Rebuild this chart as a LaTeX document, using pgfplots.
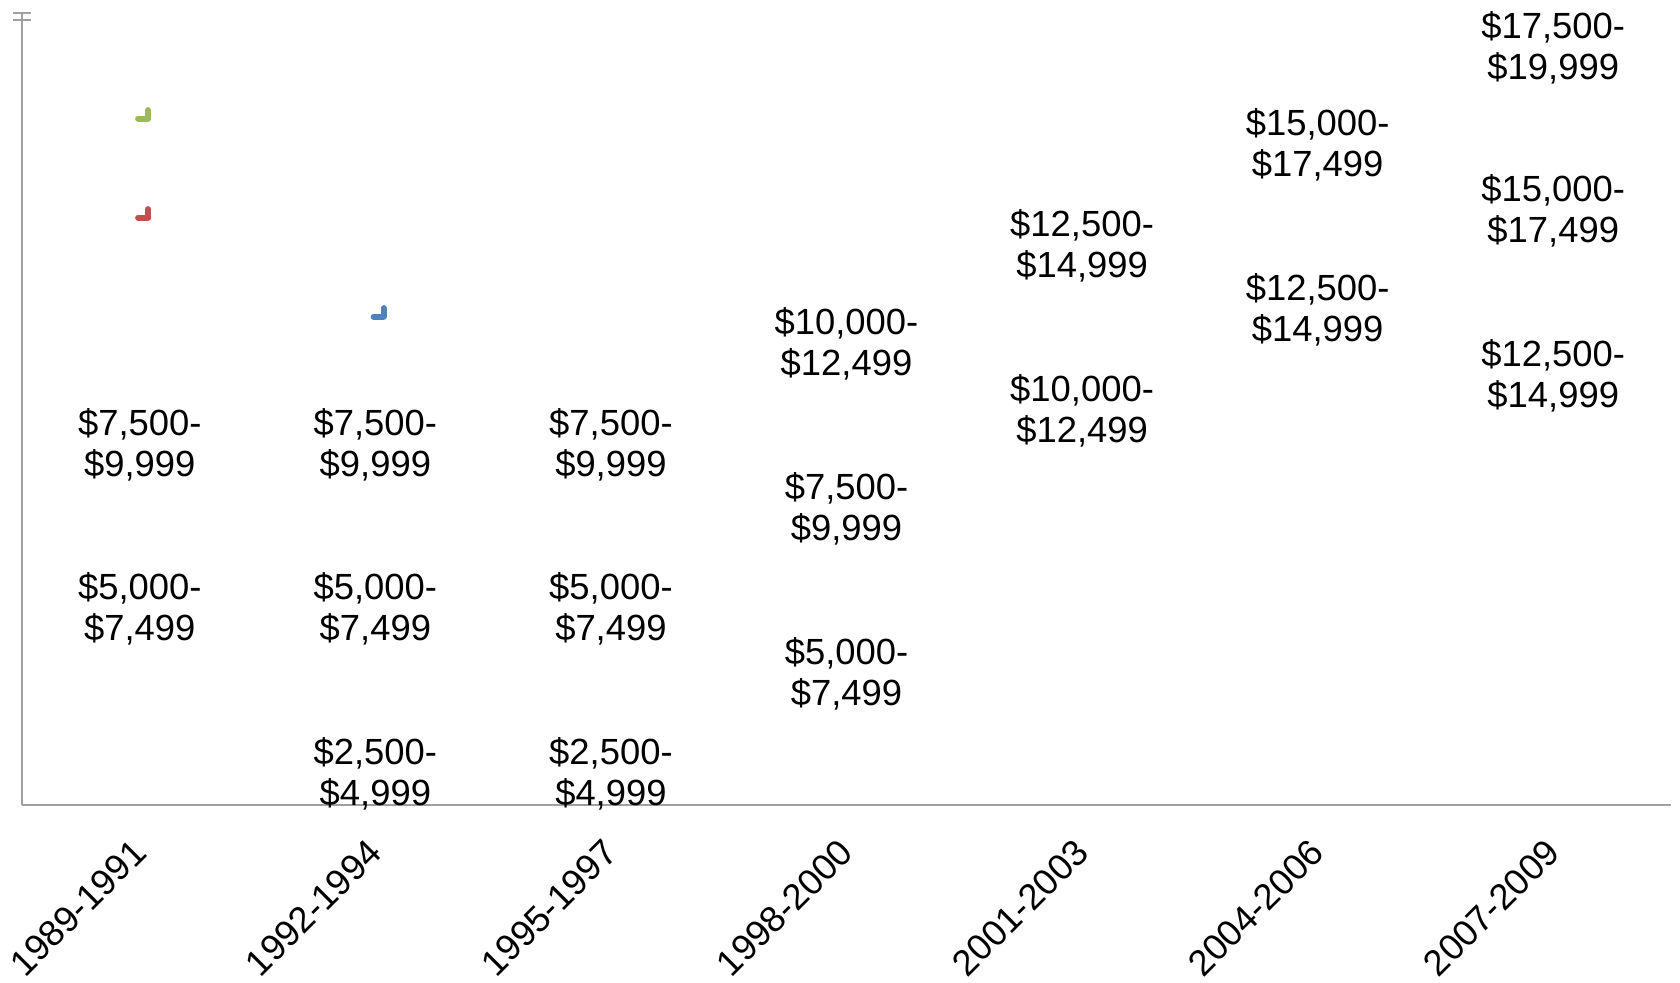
\documentclass[border=0pt]{standalone}
\usepackage{pgfplots}
\pgfplotsset{compat=1.18}
\usepackage{fontspec}
\setmainfont{Liberation Sans}
\definecolor{axgray}{RGB}{160,160,160}
\definecolor{sblue}{RGB}{79,129,189}
\definecolor{sred}{RGB}{192,80,77}
\definecolor{sgreen}{RGB}{155,187,89}
\pgfdeclareplotmark{hook}{%
  \pgfsetroundcap
  \pgfpathmoveto{\pgfpoint{-3.2pt}{-1.6pt}}
  \pgfpathlineto{\pgfpoint{1.8pt}{-1.6pt}}
  \pgfpathmoveto{\pgfpoint{1.8pt}{-1.6pt}}
  \pgfpathlineto{\pgfpoint{1.8pt}{2.6pt}}
  \pgfusepathqstroke}
\begin{document}
\begin{tikzpicture}
\useasboundingbox (-11pt,-88.5pt) rectangle (829pt,402.5pt);
\begin{axis}[
  at={(0,0)}, anchor=south west,
  scale only axis, width=824.5pt, height=396pt,
  xmin=-0.5, xmax=6.5, ymin=0, ymax=4.8,
  axis x line=bottom, axis y line=left,
  axis line style={axgray, line width=1.2pt, -},
  xtick={0,1,2,3,4,5,6},
  xticklabels={1989-1991,1992-1994,1995-1997,1998-2000,2001-2003,2004-2006,2007-2009},
  x tick style={draw=none},
  xticklabel style={font=\fontsize{18.2}{20.5}\selectfont, inner sep=0pt, yshift=-16pt, xshift=0pt, rotate=45, anchor=east},
  ytick={4.755,4.8}, yticklabels={}, tick align=center,
  y tick style={axgray, line width=1pt}, major tick length=9pt,
  clip=false,
  nodes near coords={\pgfplotspointmeta},
  point meta=explicit symbolic,
  every node near coord/.append style={anchor=center, align=center, inner sep=0pt,
    font=\fontsize{18.2}{20.5}\selectfont, text=black},
]
% upper band of labels
\addplot[draw=none, mark=none] coordinates {
  (0,2.184) [\$7,500-\\\$9,999]
  (1,2.184) [\$7,500-\\\$9,999]
  (2,2.184) [\$7,500-\\\$9,999]
  (3,2.795) [\$10,000-\\\$12,499]
  (4,3.39) [\$12,500-\\\$14,999]
  (5,4.0) [\$15,000-\\\$17,499]
  (6,4.59) [\$17,500-\\\$19,999]
};
% middle band of labels
\addplot[draw=none, mark=none] coordinates {
  (0,1.19) [\$5,000-\\\$7,499]
  (1,1.19) [\$5,000-\\\$7,499]
  (2,1.19) [\$5,000-\\\$7,499]
  (3,1.795) [\$7,500-\\\$9,999]
  (4,2.39) [\$10,000-\\\$12,499]
  (5,3.0) [\$12,500-\\\$14,999]
  (6,3.6) [\$15,000-\\\$17,499]
};
% lower band of labels
\addplot[draw=none, mark=none] coordinates {
  (1,0.19) [\$2,500-\\\$4,999]
  (2,0.19) [\$2,500-\\\$4,999]
  (3,0.795) [\$5,000-\\\$7,499]
  (6,2.6) [\$12,500-\\\$14,999]
};
% small markers
\addplot[only marks, mark=hook, sgreen, line width=3pt, nodes near coords={}] coordinates {(0.02,4.18)};
\addplot[only marks, mark=hook, sred, line width=3pt, nodes near coords={}] coordinates {(0.02,3.58)};
\addplot[only marks, mark=hook, sblue, line width=3pt, nodes near coords={}] coordinates {(1.02,2.98)};
\end{axis}
\end{tikzpicture}
\end{document}
